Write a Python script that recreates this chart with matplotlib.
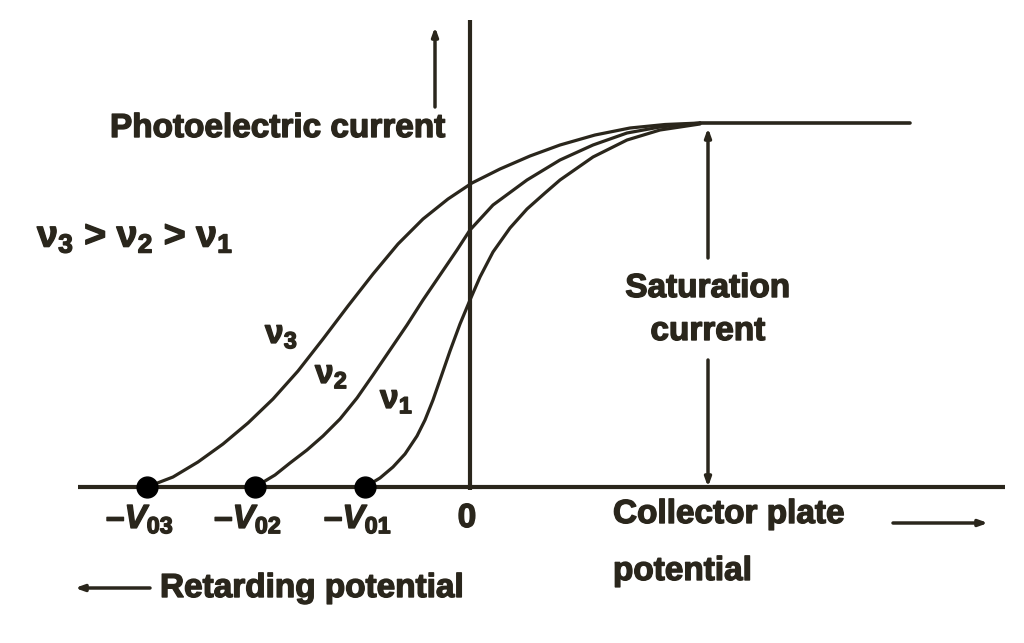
import matplotlib
matplotlib.use("Agg")
import matplotlib.pyplot as plt
import matplotlib.patheffects as pe

# photoelectric current vs collector potential for three frequencies (arb. units)
v3_x = [-3.23, -2.97, -2.72, -2.47, -2.22, -1.97, -1.72, -1.47, -1.22, -0.97,
        -0.72, -0.47, -0.22, 0.02, 0.30, 0.60, 0.90, 1.25, 1.60, 1.95, 2.30]
v3_y = [0.00, 0.10, 0.25, 0.43, 0.64, 0.88, 1.16, 1.48, 1.81, 2.13,
        2.43, 2.68, 2.88, 3.04, 3.18, 3.31, 3.42, 3.52, 3.59, 3.625, 3.64]
v2_x = [-2.15, -1.95, -1.80, -1.63, -1.47, -1.30, -1.13, -0.97, -0.80, -0.63,
        -0.47, -0.30, -0.13, 0.00, 0.23, 0.57, 0.90, 1.23, 1.57, 1.90, 2.30]
v2_y = [0.00, 0.12, 0.24, 0.37, 0.51, 0.68, 0.89, 1.12, 1.37, 1.62,
        1.87, 2.12, 2.37, 2.57, 2.82, 3.07, 3.27, 3.42, 3.54, 3.60, 3.64]
v1_x = [-1.05, -0.90, -0.77, -0.65, -0.53, -0.45, -0.37, -0.29, -0.20, -0.10,
        0.00, 0.10, 0.23, 0.40, 0.57, 0.75, 0.90, 1.23, 1.57, 1.90, 2.30]
v1_y = [0.00, 0.09, 0.20, 0.33, 0.51, 0.67, 0.87, 1.10, 1.36, 1.63,
        1.87, 2.10, 2.35, 2.59, 2.78, 2.94, 3.07, 3.30, 3.47, 3.57, 3.63]
stop_x = [-3.23, -2.15, -1.05]        # -V03, -V02, -V01
stop_labels = ["03", "02", "01"]
curve_labels = ["3", "2", "1"]
sat_y = 3.64
sat_x = [2.30, 4.40]
sat_arrow_x = 2.38

INK = "#2a261c"
plt.rcParams.update({
    "font.family": "Liberation Sans",
    "font.weight": "bold",
    "mathtext.fontset": "custom",
    "mathtext.rm": "Liberation Sans:bold",
    "mathtext.it": "Liberation Sans:italic:bold",
    "mathtext.bf": "Liberation Sans:bold",
})

fig = plt.figure(figsize=(10.24, 6.43), dpi=100)
ax = fig.add_axes([0, 0, 1, 1])
ax.set_xlim(-4.70, 5.54)
ax.set_ylim(-1.56, 4.87)
ax.axis("off")

# axes
ax.plot([-3.92, 5.35], [0, 0], color=INK, lw=3, solid_capstyle="butt")
ax.plot([0, 0], [-0.03, 4.67], color=INK, lw=3, solid_capstyle="butt")

# curves
for xs, ys in ((v3_x, v3_y), (v2_x, v2_y), (v1_x, v1_y)):
    ax.plot(xs, ys, color=INK, lw=2.3, solid_capstyle="round", solid_joinstyle="round")
ax.plot(sat_x, [sat_y, sat_y], color=INK, lw=2.6, solid_capstyle="round")
ax.plot(stop_x, [0] * 3, "o", color="black", ms=15, zorder=5)

thick = [pe.withStroke(linewidth=1.0, foreground=INK)]
kw = dict(color=INK, fontsize=24, fontweight="bold", path_effects=thick)
for x, s in zip(stop_x, stop_labels):
    ax.text(x - 0.07, -0.41, "–$V_{\\mathrm{%s}}$" % s, ha="center", va="baseline", **kw)
ax.text(-0.03, -0.40, "0", ha="center", va="baseline", **kw)

for (x, y), s in zip([(-2.05, 1.44), (-1.55, 1.04), (-0.90, 0.79)], curve_labels):
    ax.text(x, y, "ν$_{%s}$" % s, ha="left", va="baseline", **kw)
ax.text(-4.33, 2.40, "ν$_3$ > ν$_2$ > ν$_1$", ha="left", va="baseline",
        color=INK, fontsize=27, fontweight="bold", path_effects=thick)

ax.text(-3.60, 3.50, "Photoelectric current", ha="left", va="baseline", **kw)
ax.text(sat_arrow_x, 1.90, "Saturation", ha="center", va="baseline", **kw)
ax.text(sat_arrow_x, 1.47, "current", ha="center", va="baseline", **kw)
ax.text(1.43, -0.36, "Collector plate", ha="left", va="baseline", **kw)
ax.text(1.43, -0.93, "potential", ha="left", va="baseline", **kw)
ax.text(-3.10, -1.10, "Retarding potential", ha="left", va="baseline", **kw)

# arrows
akw = dict(arrowstyle="-|>,head_length=0.5,head_width=0.18", color=INK, lw=2.5,
           shrinkA=0, shrinkB=0)
ax.annotate("", xy=(sat_arrow_x, 3.59), xytext=(sat_arrow_x, 2.29), arrowprops=akw)
ax.annotate("", xy=(sat_arrow_x, 0.0), xytext=(sat_arrow_x, 1.27), arrowprops=akw)
ax.annotate("", xy=(-0.35, 4.60), xytext=(-0.35, 3.80), arrowprops=akw)
ax.annotate("", xy=(5.18, -0.36), xytext=(4.23, -0.36), arrowprops=akw)
ax.annotate("", xy=(-3.95, -1.01), xytext=(-3.20, -1.01), arrowprops=akw)

fig.savefig("out.png", dpi=100, facecolor="white")
